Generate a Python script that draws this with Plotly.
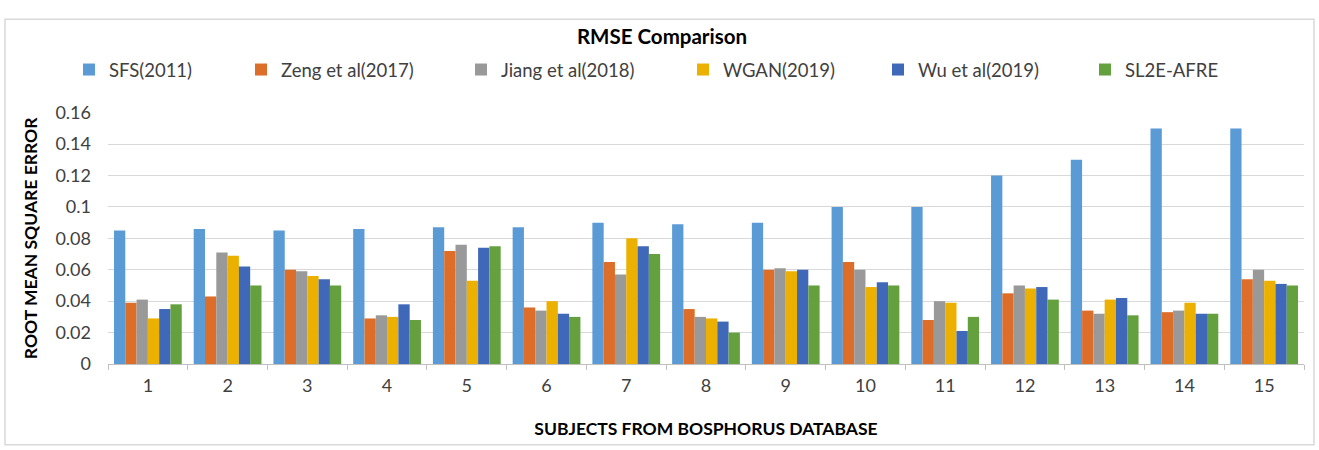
import plotly.graph_objects as go

subjects = [str(i) for i in range(1, 16)]
series_names = ["SFS(2011)", "Zeng et al(2017)", "Jiang et al(2018)",
                "WGAN(2019)", "Wu et al(2019)", "SL2E-AFRE"]

sfs   = [0.085, 0.086, 0.085, 0.086, 0.087, 0.087, 0.090, 0.089, 0.090, 0.100, 0.100, 0.120, 0.130, 0.150, 0.150]
zeng  = [0.039, 0.043, 0.060, 0.029, 0.072, 0.036, 0.065, 0.035, 0.060, 0.065, 0.028, 0.045, 0.034, 0.033, 0.054]
jiang = [0.041, 0.071, 0.059, 0.031, 0.076, 0.034, 0.057, 0.030, 0.061, 0.060, 0.040, 0.050, 0.032, 0.034, 0.060]
wgan  = [0.029, 0.069, 0.056, 0.030, 0.053, 0.040, 0.080, 0.029, 0.059, 0.049, 0.039, 0.048, 0.041, 0.039, 0.053]
wu    = [0.035, 0.062, 0.054, 0.038, 0.074, 0.032, 0.075, 0.027, 0.060, 0.052, 0.021, 0.049, 0.042, 0.032, 0.051]
sl2e  = [0.038, 0.050, 0.050, 0.028, 0.075, 0.030, 0.070, 0.020, 0.050, 0.050, 0.030, 0.041, 0.031, 0.032, 0.050]

series_values = [sfs, zeng, jiang, wgan, wu, sl2e]
colors = ["#5B9BD5", "#DD6E2A", "#999999", "#EBB000", "#3F68B8", "#64A03E"]
y_ticks = [0, 0.02, 0.04, 0.06, 0.08, 0.1, 0.12, 0.14, 0.16]
y_tick_text = ["0", "0.02", "0.04", "0.06", "0.08", "0.1", "0.12", "0.14", "0.16"]

# left edge of each legend box, px
legend_left_px = [69, 241, 461, 683, 878, 1085]

FONT = "Lato"
W, H = 1319, 450
L, R, T, B = 108, 15, 106, 86

fig = go.Figure()
for i, (name, vals, col) in enumerate(zip(series_names, series_values, colors)):
    lg = "legend" if i == 0 else f"legend{i+1}"
    fig.add_trace(go.Bar(x=subjects, y=vals, name=name, marker_color=col,
                         marker_line_width=0, legend=lg))

layout_legends = {}
for i, px in enumerate(legend_left_px):
    key = "legend" if i == 0 else f"legend{i+1}"
    layout_legends[key] = dict(
        xref="container", yref="container",
        x=px / W, y=1 - 70 / H, xanchor="left", yanchor="middle",
        orientation="h", bgcolor="rgba(0,0,0,0)",
        font=dict(family=FONT, size=18.5, color="#404040"),
        itemwidth=30, tracegroupgap=0,
    )

fig.update_layout(
    width=W, height=H,
    margin=dict(l=L, r=R, t=T, b=B),
    paper_bgcolor="white", plot_bgcolor="white",
    barmode="group", bargap=0.15, bargroupgap=0,
    font=dict(family=FONT, color="#404040"),
    title=dict(text="<b>RMSE Comparison</b>", xref="container", yref="container",
               x=662 / W, y=1 - 37 / H, xanchor="center", yanchor="middle",
               font=dict(family=FONT, size=20.5, color="#000000")),
    showlegend=True,
    **layout_legends,
)

fig.update_yaxes(
    range=[0, 0.16], tickvals=y_ticks, ticktext=y_tick_text,
    showgrid=True, gridcolor="#D9D9D9", gridwidth=1,
    zeroline=False, showline=False,
    tickfont=dict(family=FONT, size=18, color="#404040"),
    ticks="", ticklabelstandoff=16,
    title=dict(text="<b>ROOT MEAN SQUARE ERROR</b>", standoff=13,
               font=dict(family=FONT, size=17.5, color="#000000")),
)
fig.update_xaxes(
    type="category", showgrid=False, showline=True, linecolor="#BFBFBF", linewidth=1,
    ticks="outside", tickson="boundaries", ticklen=5, tickcolor="#BFBFBF",
    tickfont=dict(family=FONT, size=18, color="#404040"),
    ticklabelstandoff=5,
    title=dict(text="<b>SUBJECTS FROM BOSPHORUS DATABASE</b>", standoff=28,
               font=dict(family=FONT, size=17.5, color="#000000")),
)

# outer chart border
pw = W - L - R
ph = H - T - B
fig.add_shape(type="rect", xref="paper", yref="paper",
              x0=(5 - L) / pw, x1=(1314 - L) / pw,
              y0=(H - B - 447) / ph, y1=(H - B - 10) / ph,
              line=dict(color="#D9D9D9", width=1.5), fillcolor="rgba(0,0,0,0)",
              layer="below")

fig.write_html("out.html")
